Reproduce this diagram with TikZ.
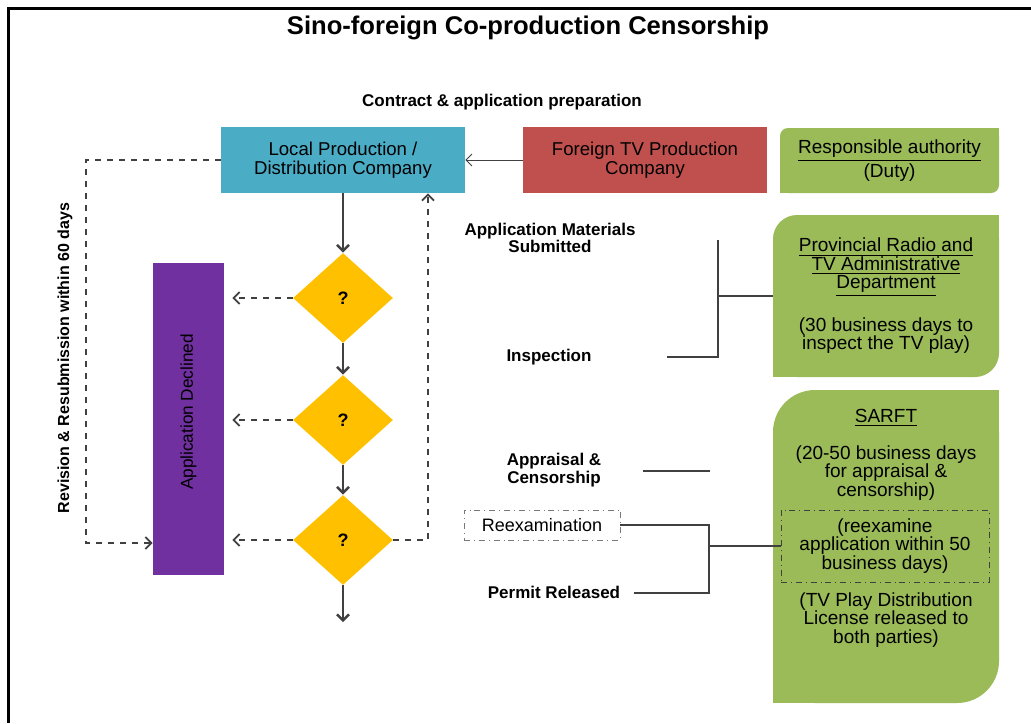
\documentclass[tikz,border=0pt]{standalone}
\usepackage{fontspec}
\setmainfont{Liberation Sans}
\usetikzlibrary{arrows.meta, positioning, shapes.geometric, calc}
\definecolor{locBlue}{HTML}{4BACC6}
\definecolor{forRed}{HTML}{C0504D}
\definecolor{authGreen}{HTML}{9BBB59}
\definecolor{declPurple}{HTML}{7030A0}
\definecolor{qYellow}{HTML}{FFC000}
\definecolor{lineGray}{HTML}{404040}

\begin{document}
\begin{tikzpicture}[
    x=0.5pt, y=-0.5pt,
    company/.style={rectangle, minimum width=122pt, minimum height=33pt,
                    inner sep=1pt, align=center,
                    font=\fontsize{9.3}{9.2}\selectfont},
    authbox/.style={rectangle, fill=authGreen, rounded corners=#1,
                    inner sep=0pt},
    authtext/.style={align=center, inner sep=1pt,
                     font=\fontsize{9.5}{9.2}\selectfont},
    query/.style={diamond, fill=qYellow, minimum width=50pt,
                  minimum height=45pt, inner sep=0pt,
                  font=\bfseries\fontsize{9}{10}\selectfont},
    stagelabel/.style={align=center, inner sep=1pt,
                       font=\bfseries\fontsize{8.5}{8.6}\selectfont},
    flow/.style={-{Straight Barb[length=3pt,width=6pt]}, line width=1.2pt,
                 lineGray},
    reject/.style={-{Straight Barb[length=3pt,width=6pt]}, dashed,
                   line width=0.9pt, lineGray},
    bracket/.style={line width=1pt, lineGray},
  ]
    \useasboundingbox (0,0) rectangle (1031,723);
    \draw[line width=1.5pt] (8,723) -- (8,8) -- (1031,8);

    % headings
    \node[font=\bfseries\fontsize{12.8}{14}\selectfont] (title) at (528,28)
      {Sino-foreign Co-production Censorship};
    \node[stagelabel] (prep) at (502,102)
      {Contract \& application preparation};

    % companies
    \node[company, fill=locBlue] (local) at (343,160)
      {Local Production /\\Distribution Company};
    \node[company, fill=forRed] (foreign) at (645,160)
      {Foreign TV Production\\Company};
    \draw[-{Straight Barb[length=3pt,width=6pt]}, lineGray] (foreign) -- (local);

    % authorities
    \node[authbox=4pt, minimum width=109.5pt, minimum height=32.5pt] (duty)
      at (889.5,160.5) {};
    \fill[authGreen] (duty.north east) rectangle ++(-10,10);
    \fill[authGreen] (duty.south west) rectangle ++(10,-10);
    \node[authtext] (dutytext) at (duty.center)
      {\underline{Responsible authority}\\(Duty)};

    \node[authbox=12pt, minimum width=113pt, minimum height=81pt] (prov)
      at (886,296) {};
    \fill[authGreen] (prov.north east) rectangle ++(-30,30);
    \fill[authGreen] (prov.south west) rectangle ++(30,-30);
    \node[authtext] (provtext) at (prov.center)
      {\underline{Provincial Radio and}\\\underline{TV Administrative}\\
       \underline{Department}\\[9.5pt](30 business days to\\inspect the TV play)};

    \node[authbox=21pt, minimum width=113pt, minimum height=156.5pt] (sarft)
      at (886,546.5) {};
    \fill[authGreen] (sarft.north east) rectangle ++(-50,50);
    \fill[authGreen] (sarft.south west) rectangle ++(50,-50);
    \node[authtext] (sarfthead) at (886,418) {\underline{SARFT}};
    \node[authtext] (sarftdays) at (886,473)
      {(20-50 business days\\for appraisal \&\\censorship)};
    \node[authtext, draw=lineGray, dash dot, minimum width=104pt,
          minimum height=36pt] (reexbox) at (885,546)
      {(reexamine\\application within 50\\business days)};
    \node[authtext] (license) at (886,620)
      {(TV Play Distribution\\License released to\\both parties)};

    % decisions
    \node[query] (q1) at (343,298) {?};
    \node[query] (q2) at (343,420) {?};
    \node[query] (q3) at (343,540) {?};
    \coordinate (exit) at (343,622);
    \draw[flow] (local) -- (q1);
    \draw[flow] (q1) -- (q2);
    \draw[flow] (q2) -- (q3);
    \draw[flow] (q3) -- (exit);

    \node[rectangle, fill=declPurple, minimum width=35.5pt,
          minimum height=156pt] (declined) at (188.5,419) {};
    \node[rotate=90, font=\fontsize{8.6}{9}\selectfont, text=black]
      (declinedtext) at (188.5,412) {Application Declined};
    \draw[reject, shorten >=4pt] (q1.west) -- (declined.east |- q1.west);
    \draw[reject, shorten >=4pt] (q2.west) -- (declined.east |- q2.west);
    \draw[reject, shorten >=4pt] (q3.west) -- (declined.east |- q3.west);
    \draw[reject] (q3.east) -| ([xshift=42.5pt]local.south);

    \coordinate (revcorner) at (86,543);
    \draw[reject] (local.west) -| (revcorner) -- (declined.west |- revcorner);
    \node[stagelabel, rotate=90, font=\bfseries\fontsize{8}{8.6}\selectfont]
      (revlabel) at (65,358) {Revision \& Resubmission within 60 days};

    % stages
    \node[stagelabel] (submit) at (550,238)
      {Application Materials\\Submitted};
    \node[stagelabel] (inspect) at (549,357) {Inspection};
    \node[stagelabel] (appraise) at (554,470) {Appraisal \&\\Censorship};
    \node[draw=lineGray!70, dash dot, minimum width=78pt, minimum height=15pt,
          inner sep=1pt, font=\fontsize{9}{9.2}\selectfont]
      (reexam) at (542,525) {Reexamination};
    \node[stagelabel] (permit) at (554,592) {Permit Released};

    \coordinate (inspend) at (667,357);
    \coordinate (provtop) at (718,240);
    \coordinate (provjoin) at (718,296);
    \draw[bracket] (inspend) -| (provtop);
    \draw[bracket] (provjoin) -- (prov.west);

    \coordinate (appstart) at (643,471);
    \coordinate (append) at (710,471);
    \draw[bracket] (appstart) -- (append);

    \coordinate (permend) at (634,593);
    \coordinate (reexjoin) at (709,546);
    \draw[bracket] (reexam.east) -| (reexjoin) |- (permend);
    \draw[bracket] (reexjoin) -- (reexbox.west);
  \end{tikzpicture}
\end{document}
